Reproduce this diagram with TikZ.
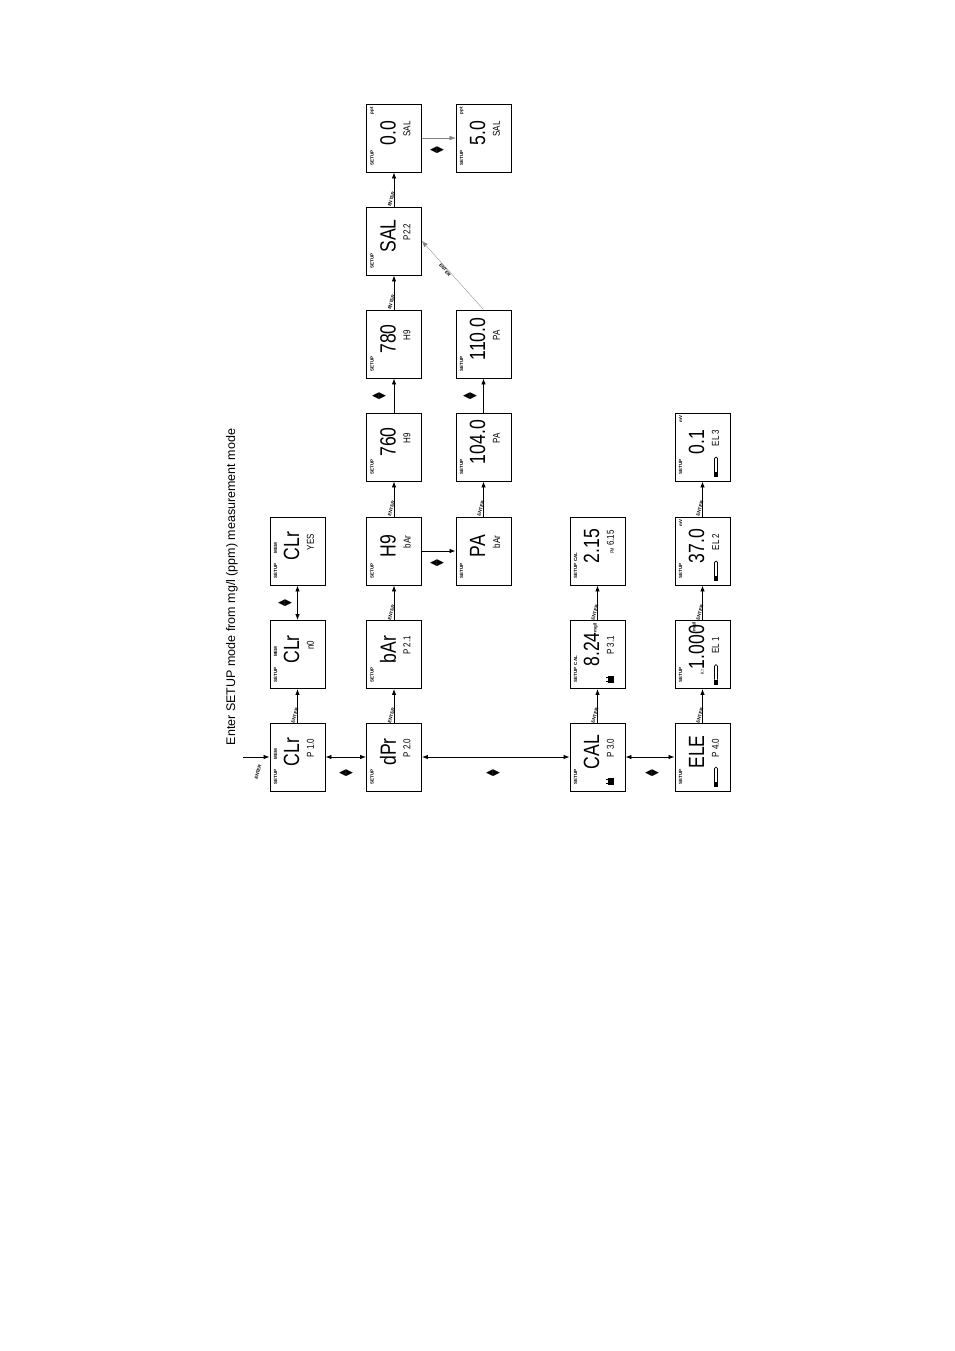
\documentclass[tikz,border=0pt]{standalone}
\usepackage{fontspec}
\setmainfont{Liberation Sans}
\newfontfamily\symfont{DejaVu Sans}
\usetikzlibrary{arrows.meta}
\tikzset{
 box/.style={draw,line width=0.9pt,minimum width=55pt,minimum height=68pt,inner sep=0pt},
 setuplbl/.style={font=\fontsize{4.5}{5}\selectfont\bfseries,inner sep=0pt},
 bigtxt/.style={font=\fontsize{22}{22}\selectfont,inner sep=0pt,xscale=0.8},
 smalltxt/.style={font=\fontsize{10}{10}\selectfont,inner sep=0pt,xscale=0.8},
 tiny/.style={font=\fontsize{4.5}{5}\selectfont\bfseries,inner sep=0pt},
 conn/.style={line width=0.8pt,-{Latex[length=6pt,width=4.5pt]}},
 dconn/.style={line width=0.8pt,{Latex[length=6pt,width=4.5pt]}-{Latex[length=6pt,width=4.5pt]}},
 thin/.style={line width=0.3pt,draw=gray,-{Latex[length=6pt,width=4.5pt]}},
 entlbl/.style={font=\fontsize{4.5}{5}\selectfont\bfseries,inner sep=0pt,rotate=75},
 lr/.style={font=\symfont\fontsize{9}{9}\selectfont,inner sep=0pt}
}
\newcommand\dispbox[6]{%
 \node[box] (#1) at (#2,#3) {};
 \begin{scope}[shift={(#2,#3)},rotate=90,transform shape]
 \node[setuplbl] at (-20,22) {SETUP};
 \node[bigtxt] at (5,6) {#4};
 \node[smalltxt] at (9,-13) {#5};
 #6
 \end{scope}}
\newcommand\batt{\fill (-28,-16) rectangle (-21,-10); \fill (-27,-10) rectangle (-26,-8.5); \fill (-23,-10) rectangle (-22,-8.5);}
\newcommand\elec{\fill (-30,-15.5) rectangle (-25,-11.5); \draw[line width=0.7pt,rounded corners=1.5pt] (-25,-15) -- (-10,-15) -- (-10,-12) -- (-25,-12);}
\begin{document}
\begin{tikzpicture}[x=1pt,y=1pt]
\path (0,0) rectangle (954,-1351);
\node[rotate=90,font=\fontsize{12.5}{13}\selectfont] (title) at (232,-587) {Enter SETUP mode from mg/l (ppm)  measurement mode};
% column A
\dispbox{A1}{297.5}{-757}{CLr}{P 1.0}{\node[tiny] at (3,22) {MEM};}
\dispbox{A2}{297.5}{-654.5}{CLr}{n0}{\node[tiny] at (3,22) {MEM};}
\dispbox{A3}{297.5}{-551}{CLr}{YES}{\node[tiny] at (3,22) {MEM};}
% column B
\dispbox{B1}{394}{-757}{dPr}{P 2.0}{}
\dispbox{B2}{394}{-654.5}{bAr}{P 2.1}{}
\dispbox{B3}{394}{-551}{H9}{bAr}{}
\dispbox{B4}{394}{-447}{760}{H9}{}
\dispbox{B5}{394}{-344}{780}{H9}{}
\dispbox{B6}{394}{-241}{SAL}{P2.2}{}
\dispbox{B7}{394}{-138}{0.0}{SAL}{\node[tiny] at (27,22) {ppt};}
% column C
\dispbox{C3}{483.5}{-551}{PA}{bAr}{}
\dispbox{C4}{483.5}{-447}{104.0}{PA}{}
\dispbox{C5}{483.5}{-344}{110.0}{PA}{}
\dispbox{C7}{483.5}{-138}{5.0}{SAL}{\node[tiny] at (27,22) {ppt};}
% column D
\dispbox{D1}{597.5}{-757}{CAL}{P 3.0}{\batt}
\dispbox{D2}{597.5}{-654.5}{8.24}{P 3.1}{\batt\node[tiny] at (-6,22) {CAL};\node[tiny] at (27,2) {mg/l};}
\dispbox{D3}{597.5}{-551}{2.15}{{\fontsize{5}{5}\selectfont PM} 6.15}{\node[tiny] at (-6,22) {CAL};}
% column E
\dispbox{E1}{702.5}{-757}{ELE}{P 4.0}{\elec}
\dispbox{E2}{702.5}{-654.5}{{\fontsize{5}{5}\selectfont K=}1.000}{EL 1}{\elec\node[tiny] at (28,8) {mg/l};}
\dispbox{E3}{702.5}{-551}{37.0}{EL 2}{\elec\node[tiny] at (28,22) {mV};}
\dispbox{E4}{702.5}{-447}{0.1}{EL 3}{\elec\node[tiny] at (28,22) {mV};}
% entry
\coordinate (in) at (243,-757);
\draw[conn] (in) -- (A1.west);
\node[entlbl] at (258,-772) {ENTER};
% horizontal double arrows
\draw[dconn] (A1.east) -- (B1.west);
\draw[dconn] (B1.east) -- (D1.west);
\draw[dconn] (D1.east) -- (E1.west);
\draw[dconn] (A2.north) -- (A3.south);
\draw[conn] (B3.east) -- (C3.west);
\draw[thin] (B7.east) -- (C7.west);
% ENTER up arrows
\foreach \a/\b in {A1/A2,B1/B2,B2/B3,B3/B4,B5/B6,B6/B7,C3/C4,D1/D2,D2/D3,E1/E2,E2/E3,E3/E4}{
 \draw[conn] (\a.north) -- (\b.south) node[midway,entlbl,left=2pt] {ENTER};
}
\draw[conn] (B4.north) -- (B5.south);
\draw[conn] (C4.north) -- (C5.south);
\draw[thin] (C5.north) -- (B6.east);
\node[font=\fontsize{4.5}{5}\selectfont\bfseries,inner sep=0pt,rotate=-50] at (445,-270) {ENTER};
% left/right symbols
\foreach \p in {(346,-773),(493,-773),(652,-773),(285,-603),(437,-563),(379,-396),(470,-396),(437,-150)}
 \node[lr] at \p {◀▶};
\end{tikzpicture}
\end{document}
